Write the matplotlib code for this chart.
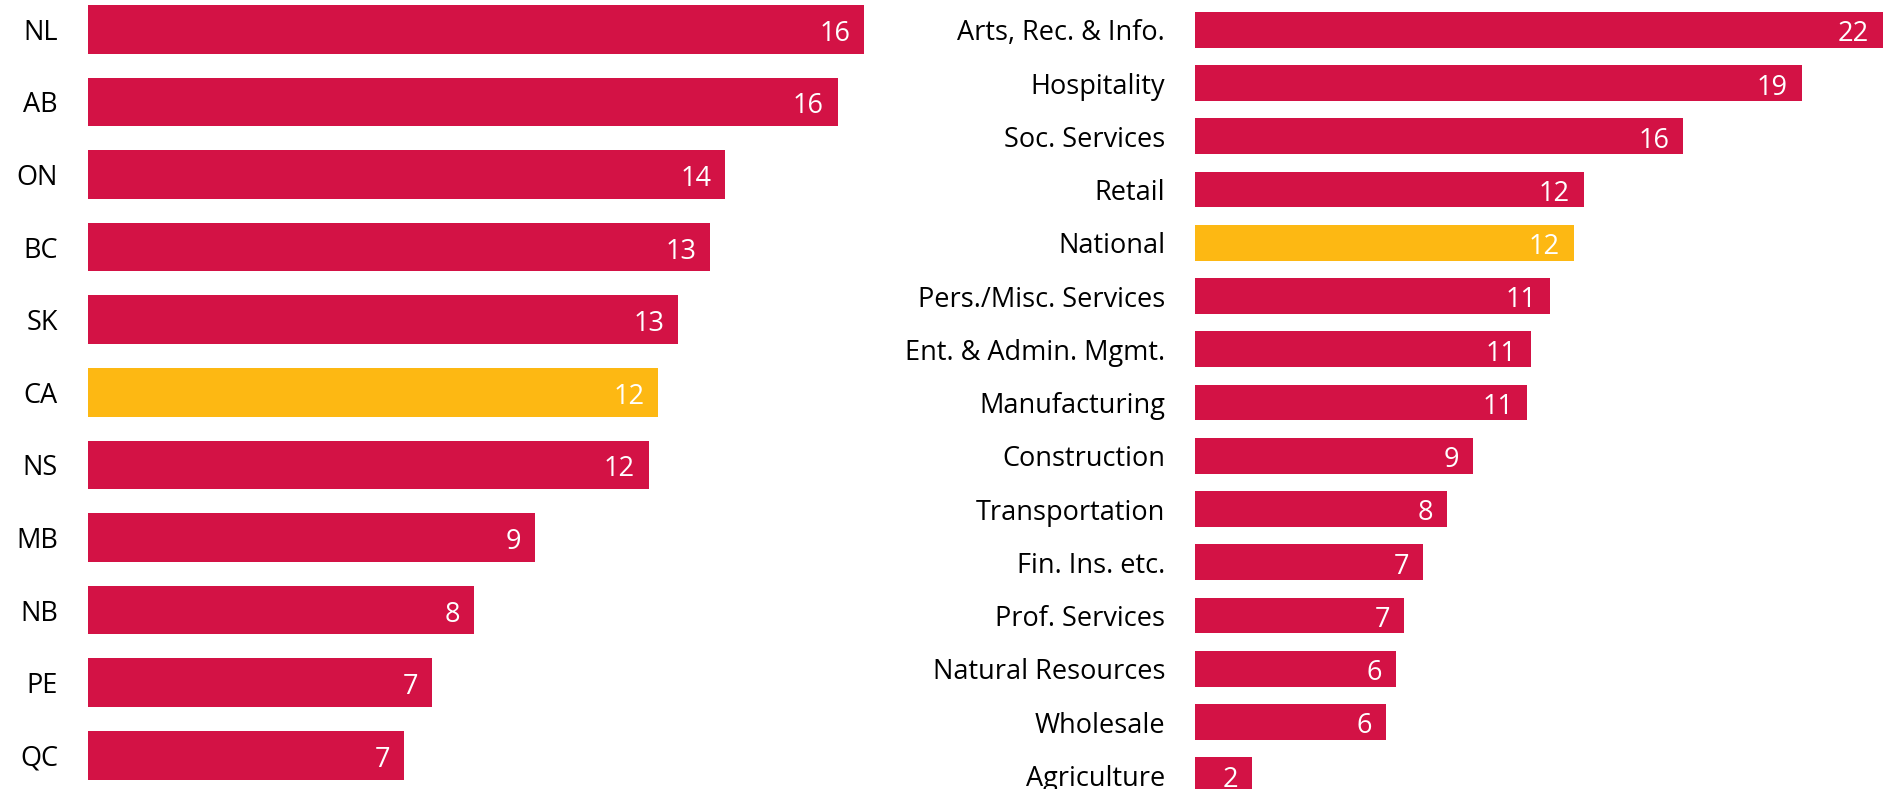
import matplotlib
matplotlib.use("Agg")
import matplotlib.pyplot as plt
from matplotlib.transforms import ScaledTranslation

plt.rcParams['font.family'] = ['Open Sans', 'DejaVu Sans']

# left panel: provinces
provinces = ['NL', 'AB', 'ON', 'BC', 'SK', 'CA', 'NS', 'MB', 'NB', 'PE', 'QC']
prov_values = [16.47, 15.9, 13.52, 13.2, 12.52, 12.1, 11.9, 9.48, 8.2, 7.3, 6.7]

# right panel: industries
industries = ['Arts, Rec. & Info.', 'Hospitality', 'Soc. Services', 'Retail', 'National',
              'Pers./Misc. Services', 'Ent. & Admin. Mgmt.', 'Manufacturing', 'Construction',
              'Transportation', 'Fin. Ins. etc.', 'Prof. Services', 'Natural Resources',
              'Wholesale', 'Agriculture']
ind_values = [21.97, 19.38, 15.6, 12.42, 12.1, 11.35, 10.73, 10.62, 8.9, 8.07, 7.3, 6.68, 6.42, 6.1, 1.83]

highlight = {'CA', 'National'}
RED = '#D31245'
GOLD = '#FDB813'

W, H = 1888, 789
fig = plt.figure(figsize=(W / 100, H / 100), dpi=100)

ax1 = fig.add_axes([87.8 / W, -0.0033, 801.6 / W, 1.0122])
ax2 = fig.add_axes([1194.9 / W, -0.01635, 693 / W, 1.0123])

shift_down = ScaledTranslation(0, -4 / 100, fig.dpi_scale_trans)


def draw(ax, cats, vals, xmax):
    colors = [GOLD if c in highlight else RED for c in cats]
    ypos = list(range(len(cats)))
    ax.barh(ypos, vals, height=0.67, color=colors)
    ax.set_xlim(0, xmax)
    ax.set_ylim(len(cats) - 0.5, -0.5)
    ax.set_yticks(ypos)
    ax.set_yticklabels(cats, fontsize=19.5)
    for lab in ax.get_yticklabels():
        lab.set_transform(lab.get_transform() + shift_down)
    ax.tick_params(axis='y', length=0, pad=21.5)
    ax.set_xticks([])
    for s in ax.spines.values():
        s.set_visible(False)
    for y, v in zip(ypos, vals):
        ax.annotate(f"{v:.0f}", xy=(v, y), xytext=(-10, -3.2), textcoords='offset points',
                    ha='right', va='center', color='white', fontsize=19.5)


draw(ax1, provinces, prov_values, 17)
draw(ax2, industries, ind_values, 22.14)

fig.savefig('out.png', dpi=100)
